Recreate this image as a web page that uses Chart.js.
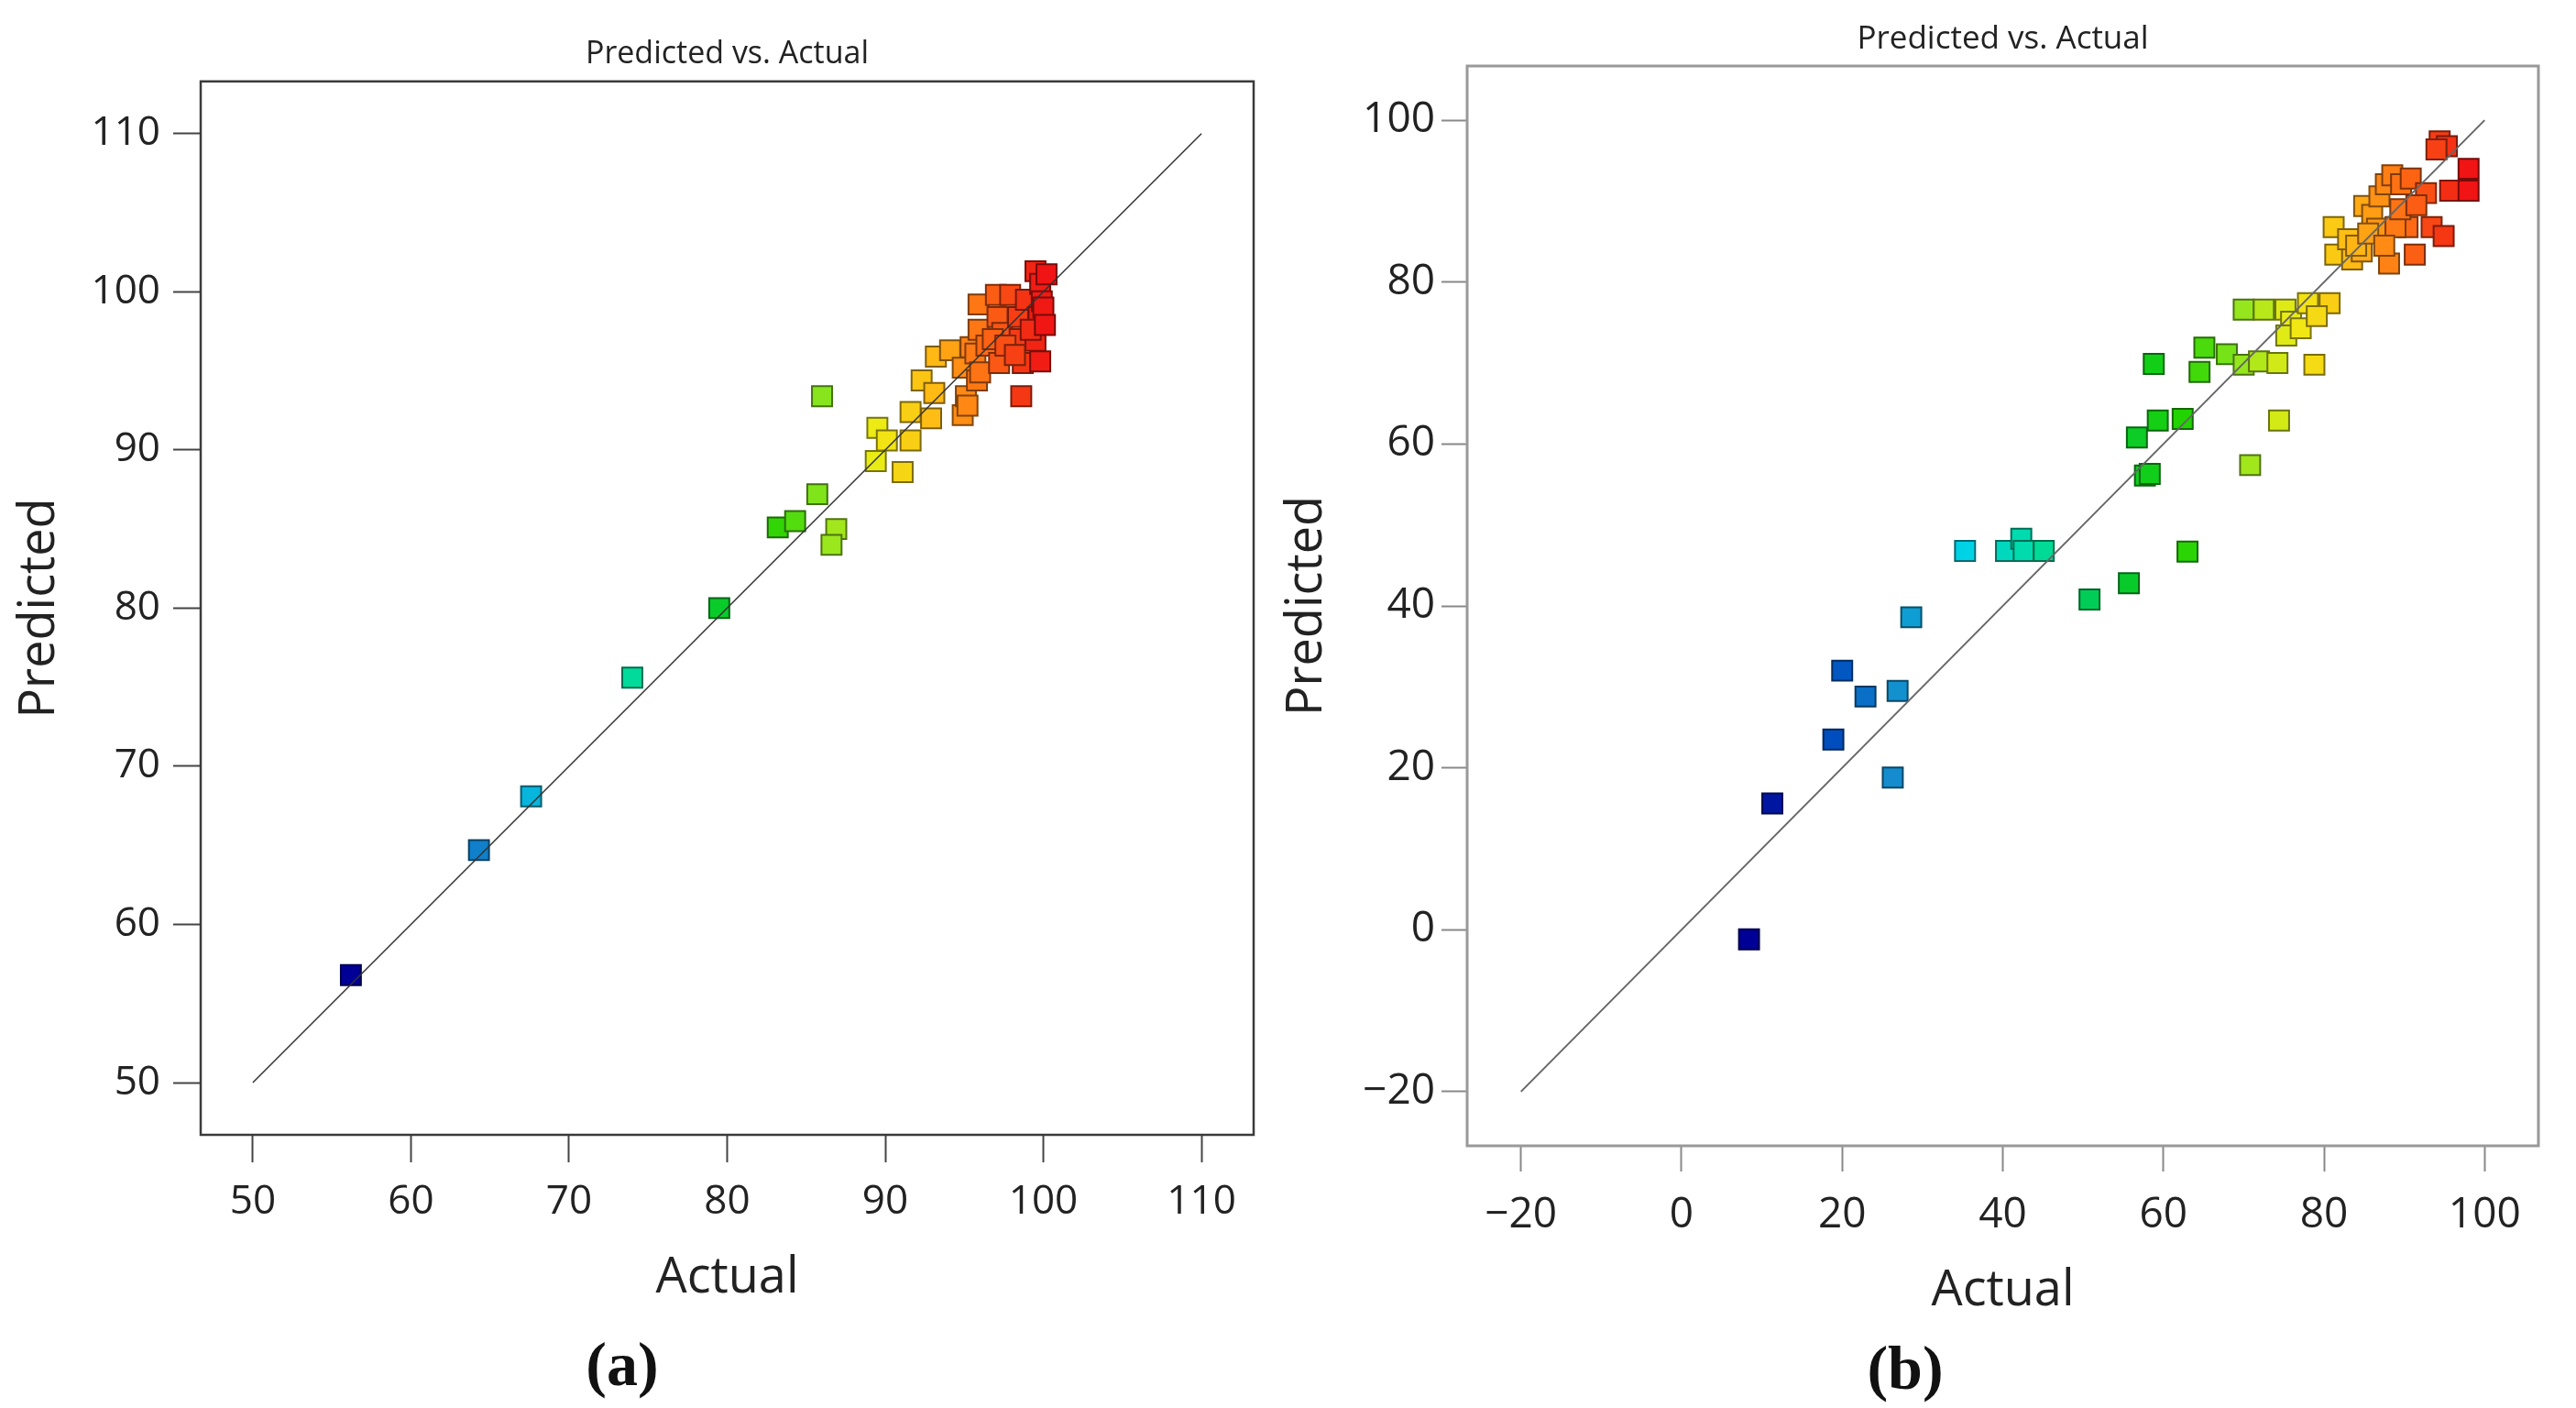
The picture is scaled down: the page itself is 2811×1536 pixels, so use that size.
<!DOCTYPE html>
<html>
<head>
<meta charset="utf-8">
<script src="https://cdn.jsdelivr.net/npm/chart.js@4.4.1/dist/chart.umd.min.js"></script>
<style>
  body { margin: 0; width: 2811px; height: 1536px; background: #fff; position: relative; overflow: hidden; }
  canvas { position: absolute; top: 0; }
  .tag { position: absolute; width: 200px; text-align: center; font: bold 68px "Liberation Serif", "DejaVu Serif", serif; line-height: 68px; color: #111; }
</style>
</head>
<body>
<canvas id="chartA" width="1400" height="1440" style="left:0"></canvas>
<canvas id="chartB" width="1411" height="1440" style="left:1400px"></canvas>
<div class="tag" style="left:579px;top:1454px">(a)</div>
<div class="tag" style="left:1979px;top:1458px">(b)</div>
<script>
// panel (a)
const actualA = [56.2, 64.3, 67.6, 74.0, 79.5, 83.2, 84.3, 86.9, 86.6, 85.7, 86.0,
  89.4, 89.5, 90.1, 91.1, 91.6, 91.6, 92.3, 92.9, 93.1, 93.2, 94.1, 94.9, 95.1, 95.2,
  94.9, 95.4, 95.7, 95.8, 96.0, 95.9, 95.9, 96.4, 97.0, 97.1, 97.2, 97.4, 97.9, 98.4,
  98.5, 98.6, 98.7, 98.9, 99.5, 99.5, 99.7, 99.8, 99.8, 99.9, 100.2, 100.0,
  96.8, 97.6, 98.2, 99.2, 100.1];
const predictedA = [56.8, 64.7, 68.1, 75.6, 80.0, 85.1, 85.5, 85.0, 84.0, 87.2, 93.4,
  89.3, 91.4, 90.6, 88.6, 90.6, 92.4, 94.4, 92.0, 93.6, 95.9, 96.3, 92.2, 93.4, 92.8,
  95.2, 96.5, 96.1, 94.4, 94.9, 97.6, 99.2, 96.6, 99.8, 98.4, 95.5, 97.4, 99.8, 98.4,
  97.0, 93.4, 95.5, 99.5, 96.9, 101.3, 98.4, 95.6, 100.5, 99.4, 101.1, 99.0,
  97.0, 96.6, 96.0, 97.6, 97.9];
const fitLineA = [50, 110];
const ticksA = [50, 60, 70, 80, 90, 100, 110];

// panel (b)
const actualB = [8.4, 11.3, 18.9, 20.0, 22.9, 26.9, 26.3, 28.6, 35.3, 40.4, 42.3, 42.6, 45.1,
  50.8, 55.7, 63.0, 56.7, 57.7, 58.3, 58.8, 59.3, 62.4,
  64.5, 65.1, 67.9, 70.0, 71.9, 74.2, 78.8,
  70.0, 72.5, 75.2, 75.9, 75.3, 77.1, 78.0, 80.7, 79.1, 74.4, 70.8,
  81.2, 81.4, 83.0, 83.5, 84.7, 85.0, 86.0, 86.9, 86.6, 88.1, 87.7, 88.5, 89.6, 90.8,
  90.4, 88.9, 91.3, 93.4, 94.9, 92.7, 95.7, 98.0, 98.0, 94.4, 95.3, 94.0,
  84.0, 85.5, 87.5, 89.5, 91.5];
const predictedB = [-1.2, 15.6, 23.5, 32.0, 28.8, 29.5, 18.8, 38.6, 46.8, 46.8, 48.3, 46.8, 46.8,
  40.8, 42.8, 46.7, 60.8, 56.1, 56.3, 69.9, 62.9, 63.1,
  68.9, 71.9, 71.1, 69.8, 70.2, 70.0, 69.8,
  76.6, 76.6, 76.6, 75.1, 73.4, 74.3, 77.4, 77.4, 75.8, 62.9, 57.4,
  86.8, 83.4, 85.3, 82.8, 83.8, 89.4, 88.3, 90.6, 86.6, 82.3, 92.1, 93.2, 92.1, 92.8,
  86.8, 86.8, 83.4, 86.8, 85.7, 91.0, 91.3, 91.3, 94.0, 97.4, 96.8, 96.4,
  84.5, 86.0, 84.5, 89.0, 89.5];
const fitLineB = [-20, 100];
const ticksB = [-20, 0, 20, 40, 60, 80, 100];

// blue -> cyan -> green -> yellow -> red, coloured by actual value
const colorStops = [
  [0.00, 0, 0, 150], [0.12, 0, 80, 190], [0.20, 20, 140, 205], [0.30, 0, 210, 230],
  [0.40, 0, 220, 160], [0.50, 0, 200, 60], [0.60, 30, 210, 0], [0.68, 140, 230, 30],
  [0.76, 240, 235, 20], [0.84, 255, 185, 20], [0.90, 255, 120, 20], [1.00, 240, 20, 20]
];

function rampColor(t, k) {
  t = Math.max(0, Math.min(1, t));
  let i = 1;
  while (i < colorStops.length - 1 && colorStops[i][0] < t) i++;
  const a = colorStops[i - 1], b = colorStops[i];
  const f = (t - a[0]) / (b[0] - a[0]);
  const c = [1, 2, 3].map(j => Math.round((a[j] + (b[j] - a[j]) * f) * k));
  return `rgb(${c[0]}, ${c[1]}, ${c[2]})`;
}

const framePlugin = {
  id: 'frame',
  afterDraw(chart, args, opts) {
    const {ctx, chartArea: a} = chart;
    ctx.save();
    ctx.strokeStyle = opts.color;
    ctx.lineWidth = opts.width;
    ctx.strokeRect(a.left, a.top, a.right - a.left, a.bottom - a.top);
    ctx.restore();
  }
};

const fmt = v => v < 0 ? '\u2212' + Math.abs(v) : String(v);

function makeChart(id, p) {
  const lo = Math.min(...p.actual), hi = Math.max(...p.actual);
  const ts = p.actual.map(a => (a - lo) / (hi - lo));
  const axis = (title, tickList, fit, pad) => ({
    type: 'linear',
    min: p.range[0],
    max: p.range[1],
    afterBuildTicks: s => { s.ticks = tickList.map(v => ({value: v})); },
    afterFit: fit,
    border: { display: false },
    grid: { drawOnChartArea: false, drawTicks: true, tickLength: p.tickLen, tickColor: p.tickColor, tickWidth: 2 },
    ticks: { padding: pad, color: '#222', font: { family: 'Open Sans', size: p.tickSize }, callback: fmt },
    title: { display: true, text: title, color: '#222', padding: 0, font: { family: 'Open Sans', size: 54, lineHeight: 1 } }
  });

  return new Chart(document.getElementById(id), {
    type: 'scatter',
    data: {
      datasets: [{
        type: 'line',
        data: p.line.map(v => ({x: v, y: v})),
        showLine: true,
        borderColor: p.lineColor,
        borderWidth: p.lineWidth,
        pointRadius: 0
      }, {
        data: p.actual.map((a, i) => ({x: a, y: p.predicted[i]})),
        pointStyle: 'rect',
        pointRadius: 15.5,
        pointHoverRadius: 15.5,
        borderWidth: 2,
        backgroundColor: ts.map(t => rampColor(t, 1)),
        borderColor: ts.map(t => rampColor(t, 0.5))
      }]
    },
    options: {
      responsive: false,
      animation: false,
      layout: { padding: p.pad },
      plugins: {
        legend: { display: false },
        tooltip: { enabled: false },
        title: {
          display: true,
          text: 'Predicted vs. Actual',
          fullSize: false,
          color: '#222',
          font: { family: 'Open Sans', size: p.titleSize, weight: 'normal', lineHeight: 1.2 },
          padding: { top: 0, bottom: p.titleGap }
        },
        frame: { color: p.frameColor, width: p.frameWidth }
      },
      scales: {
        x: axis('Actual', p.ticks, s => { s.height = p.xAxisH; }, p.xPad),
        y: axis('Predicted', p.ticks, s => { s.width = p.yAxisW; }, p.yPad)
      }
    },
    plugins: [framePlugin]
  });
}

makeChart('chartA', {
  actual: actualA, predicted: predictedA, line: fitLineA, ticks: ticksA,
  range: [46.7, 113.3],
  pad: { left: 17, right: 32, top: 39, bottom: 18 },
  titleSize: 34, titleGap: 9, xAxisH: 184, yAxisW: 202, xPad: 17, yPad: 14,
  tickLen: 30, tickSize: 44, tickColor: '#444',
  frameColor: '#3a3a3a', frameWidth: 2.5, lineColor: '#333', lineWidth: 1.5
});

makeChart('chartB', {
  actual: actualB, predicted: predictedB, line: fitLineB, ticks: ticksB,
  range: [-26.7, 106.7],
  pad: { left: 0, right: 41, top: 22, bottom: 4 },
  titleSize: 35, titleGap: 8, xAxisH: 186, yAxisW: 201, xPad: 20, yPad: 7,
  tickLen: 28, tickSize: 46, tickColor: '#888',
  frameColor: '#999', frameWidth: 3, lineColor: '#666', lineWidth: 2
});
</script>
</body>
</html>
